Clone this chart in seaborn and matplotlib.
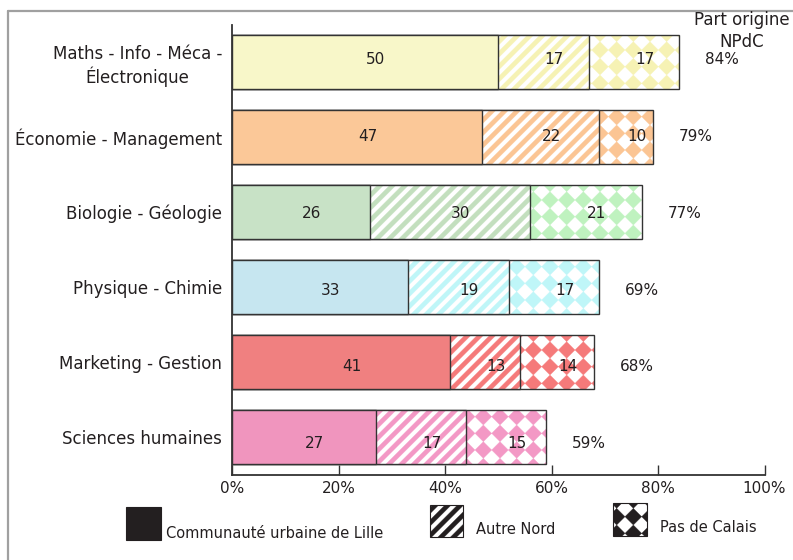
import numpy as np
import pandas as pd
import matplotlib
matplotlib.use("Agg")
import matplotlib.pyplot as plt
import seaborn as sns
import matplotlib.hatch as mhatch
from matplotlib.path import Path
from matplotlib.patches import Rectangle
from matplotlib.lines import Line2D
from matplotlib.colors import to_rgba

# ---------------- data ----------------
categories = ["Maths - Info - Méca -\nÉlectronique", "Économie - Management",
              "Biologie - Géologie", "Physique - Chimie",
              "Marketing - Gestion", "Sciences humaines"]
lille = [50, 47, 26, 33, 41, 27]
autre_nord = [17, 22, 30, 19, 13, 17]
pas_de_calais = [17, 10, 21, 17, 14, 15]
part_npdc = [84, 79, 77, 69, 68, 59]
x_ticks = [0, 20, 40, 60, 80, 100]
x_tick_labels = ["0%", "20%", "40%", "60%", "80%", "100%"]
legend_labels = ["Communauté urbaine de Lille", "Autre Nord", "Pas de Calais"]
header_text = "Part origine\nNPdC"

face_colors = ["#F8F7C9", "#FBC898", "#C8E2C6", "#C6E6F0", "#F08080", "#F095BE"]
stripe_colors = ["#F6F2B4", "#FBC594", "#C3DFBE", "#BFF6F8", "#F57A7A", "#F398C5"]
checker_colors = ["#F6F2B4", "#FBC594", "#BFF2BF", "#BFF6F8", "#F57A7A", "#F398C5"]


# ---------------- custom filled hatch patterns ----------------
class FilledStripes(mhatch.HatchPatternBase):
    """'O' -> thick '/' stripes (filled bands)."""
    def __init__(self, hatch, density):
        self.m = hatch.count('O') * 8
        self.num_vertices = 0 if self.m == 0 else (2 * self.m + 3) * 5

    def set_vertices_and_codes(self, vertices, codes):
        q = 1.0 / self.m
        w = q * 0.5
        k = 0
        for i in range(-self.m - 1, self.m + 2):
            a = i * q
            vertices[k:k + 5] = [(a - 1, -1), (a + 2, 2), (a + w + 2, 2),
                                 (a + w - 1, -1), (a - 1, -1)]
            codes[k:k + 5] = [Path.MOVETO, Path.LINETO, Path.LINETO,
                              Path.LINETO, Path.CLOSEPOLY]
            k += 5


class FilledChecker(mhatch.HatchPatternBase):
    """'*' -> diagonal checkerboard (filled diamonds)."""
    def __init__(self, hatch, density):
        self.n = hatch.count('*') * 6
        self.num_vertices = 0 if self.n == 0 else (self.n + 1) ** 2 * 5

    def set_vertices_and_codes(self, vertices, codes):
        n = self.n
        p = 1.0 / n
        r = p / 2
        k = 0
        for i in range(n + 1):
            for j in range(n + 1):
                cx, cy = i * p, j * p
                vertices[k:k + 5] = [(cx - r, cy), (cx, cy - r), (cx + r, cy),
                                     (cx, cy + r), (cx - r, cy)]
                codes[k:k + 5] = [Path.MOVETO, Path.LINETO, Path.LINETO,
                                  Path.LINETO, Path.CLOSEPOLY]
                k += 5


mhatch._hatch_types = [t for t in mhatch._hatch_types
                       if t not in (mhatch.LargeCircles, mhatch.Stars)] + [FilledStripes, FilledChecker]

# ---------------- style ----------------
sns.set_theme(style="white")
plt.rcParams["font.family"] = ["DejaVu Sans"]
plt.rcParams["hatch.linewidth"] = 0.2
TXT = "#231F20"

W, H = 793, 560
fig = plt.figure(figsize=(W / 100, H / 100), dpi=100)
fig.patch.set_facecolor("white")


def fx(px):
    return px / W


def fy(py):
    return 1 - py / H


ax = fig.add_axes([fx(232), fy(474.5), (764.5 - 232) / W, 450 / H])

df = pd.DataFrame({"Filière": categories, "Lille": lille,
                   "Nord": autre_nord, "PdC": pas_de_calais})
df["cum2"] = df["Lille"] + df["Nord"]
df["cum3"] = df["cum2"] + df["PdC"]
pal = dict(zip(categories, face_colors))

layers = [("cum3", "*", checker_colors), ("cum2", "O", stripe_colors), ("Lille", None, None)]
for col, hatch, hcolors in layers:
    n0 = len(ax.patches)
    sns.barplot(data=df, y="Filière", x=col, hue="Filière", palette=pal,
                legend=False, width=0.72, saturation=1, orient="h",
                edgecolor="#333333", linewidth=1.0, ax=ax)
    for p in ax.patches[n0:]:
        idx = int(round(p.get_y() + p.get_height() / 2))
        if hatch:
            p.set_facecolor("white")
            p.set_edgecolor("#333333")
            p.set_hatch(hatch)
            p._hatch_color = to_rgba(hcolors[idx])

ax.set_xlim(0, 100)
ax.set_ylim(5.5, -0.5)
ax.set_xlabel("")
ax.set_ylabel("")
ax.set_xticks(x_ticks)
ax.set_xticklabels(x_tick_labels, fontsize=11, color=TXT)
ax.tick_params(axis="x", direction="in", length=7.2, width=1.0, color="#333333",
               pad=5, bottom=True)
ax.tick_params(axis="y", length=0, pad=7, labelsize=12, labelcolor=TXT)
for lab in ax.get_yticklabels():
    lab.set_multialignment("center")
for s in ["top", "right"]:
    ax.spines[s].set_visible(False)
for s in ["left", "bottom"]:
    ax.spines[s].set_color("#333333")
    ax.spines[s].set_linewidth(1.3)

# value labels
for i in range(len(categories)):
    ly = i * 1.024 - 0.03
    segs = [(0, lille[i]), (lille[i], autre_nord[i]),
            (lille[i] + autre_nord[i], pas_de_calais[i])]
    for left, v in segs:
        ax.text(left + v / 2 + 2, ly, str(v), ha="center", va="center",
                fontsize=11, color=TXT)
    total = lille[i] + autre_nord[i] + pas_de_calais[i]
    ax.text(total + 8, ly, f"{part_npdc[i]}%", ha="center", va="center",
            fontsize=11, color=TXT, clip_on=False)

fig.text(fx(742), fy(31), header_text, ha="center", va="center",
         fontsize=12, color=TXT, linespacing=1.25, multialignment="center")

# frame
fig.add_artist(Line2D([fx(7.5), fx(7.5)], [fy(10.5), fy(562)], color="#A0A0A0",
                      lw=1.6, transform=fig.transFigure))
fig.add_artist(Line2D([fx(7.5), fx(795)], [fy(10.5), fy(10.5)], color="#A0A0A0",
                      lw=1.6, transform=fig.transFigure))

# legend
def legend_box(x0, x1, y0, y1, hatch):
    r = Rectangle((fx(x0), fy(y1)), fx(x1) - fx(x0), fy(y0) - fy(y1),
                  transform=fig.transFigure,
                  facecolor=TXT if hatch is None else "white",
                  edgecolor=TXT, lw=0.8, hatch=hatch)
    if hatch:
        r._hatch_color = to_rgba(TXT)
    fig.add_artist(r)

legend_box(126, 160.5, 507, 539.5, None)
fig.text(fx(166.5), fy(533), legend_labels[0], ha="left", va="center",
         fontsize=10.5, color=TXT)
legend_box(430, 463, 505, 537, "O")
fig.text(fx(476), fy(530), legend_labels[1], ha="left", va="center",
         fontsize=10.5, color=TXT)
legend_box(613, 647, 503, 536, "*")
fig.text(fx(660), fy(527), legend_labels[2], ha="left", va="center",
         fontsize=10.5, color=TXT)

fig.savefig("out.png", dpi=100, facecolor="white")
